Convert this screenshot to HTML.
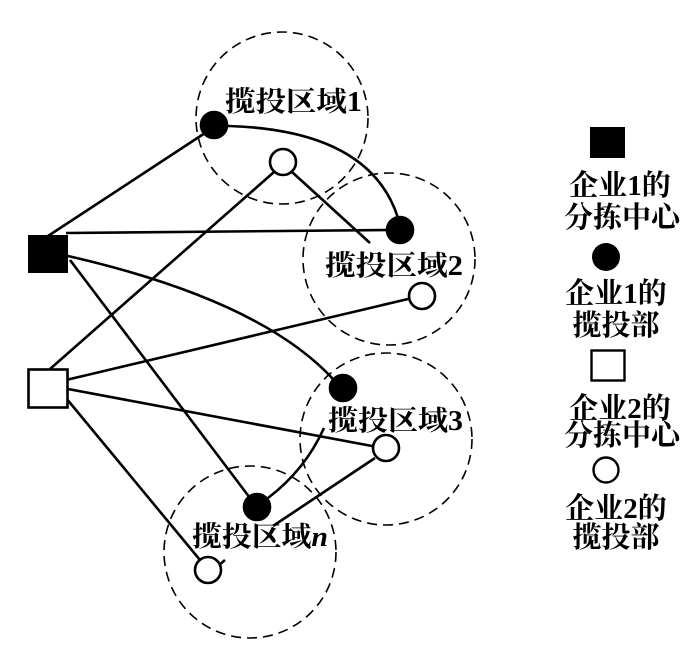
<!DOCTYPE html>
<html><head><meta charset="utf-8"><style>html,body{margin:0;padding:0;background:#fff;}svg{display:block}</style></head>
<body>
<svg width="700" height="668" viewBox="0 0 700 668" xmlns="http://www.w3.org/2000/svg">
<g fill="none" stroke="#000" stroke-width="1.6" stroke-dasharray="10,6">
<circle cx="282" cy="118" r="86"/>
<circle cx="389" cy="259" r="86"/>
<circle cx="386" cy="439" r="86"/>
<circle cx="250" cy="552" r="86"/>
</g>
<g fill="none" stroke="#000" stroke-width="2.6">
<line x1="48" y1="236" x2="205" y2="133"/>
<path d="M228 126 Q370 130 398 218"/>
<line x1="66" y1="233" x2="390" y2="230"/>
<line x1="274" y1="172" x2="50" y2="369"/>
<line x1="292" y1="172" x2="370" y2="243"/>
<path d="M68 256 Q260 300 333 379"/>
<line x1="70" y1="260" x2="250" y2="498"/>
<line x1="66" y1="380" x2="408" y2="299"/>
<line x1="68" y1="389" x2="372" y2="446"/>
<line x1="66" y1="398" x2="200" y2="560"/>
<path d="M268 498 Q305 470 324 428"/>
<line x1="375" y1="458" x2="273" y2="526"/>
<line x1="218" y1="566" x2="225" y2="560"/>
</g>
<rect x="28" y="235" width="40" height="38" fill="#000"/>
<rect x="28.5" y="369.5" width="39" height="38" fill="#fff" stroke="#000" stroke-width="2.6"/>
<g stroke="#000" stroke-width="2.6">
<circle cx="214" cy="125" r="13" fill="#000"/>
<circle cx="400" cy="230" r="13" fill="#000"/>
<circle cx="343" cy="388" r="13" fill="#000"/>
<circle cx="257" cy="507" r="13" fill="#000"/>
<circle cx="283" cy="162" r="13" fill="#fff"/>
<circle cx="422" cy="296" r="13" fill="#fff"/>
<circle cx="386" cy="448" r="13" fill="#fff"/>
<circle cx="208" cy="570" r="13" fill="#fff"/>
</g>
<g font-family="'Liberation Serif','Noto Serif CJK SC',serif" font-size="28" font-weight="bold" fill="#000">
<text x="225" y="111" textLength="137" lengthAdjust="spacingAndGlyphs">揽投区域1</text>
<text x="325" y="275" textLength="138" lengthAdjust="spacingAndGlyphs">揽投区域2</text>
<text x="328" y="430" textLength="135" lengthAdjust="spacingAndGlyphs">揽投区域3</text>
<text x="192" y="546" textLength="136" lengthAdjust="spacingAndGlyphs">揽投区域<tspan font-style="italic">n</tspan></text>
</g>
<rect x="590" y="127" width="35" height="31" fill="#000"/>
<circle cx="606" cy="257" r="14" fill="#000"/>
<rect x="591.5" y="350.5" width="33" height="30" fill="#fff" stroke="#000" stroke-width="2.4"/>
<circle cx="606" cy="470" r="12.5" fill="#fff" stroke="#000" stroke-width="2.4"/>
<g font-family="'Liberation Serif','Noto Serif CJK SC',serif" font-size="29" font-weight="bold" fill="#000" text-anchor="middle">
<text x="620" y="195">企业1的</text>
<text x="622" y="227">分拣中心</text>
<text x="616" y="303">企业1的</text>
<text x="616" y="335">揽投部</text>
<text x="620" y="418">企业2的</text>
<text x="622" y="445">分拣中心</text>
<text x="616" y="518">企业2的</text>
<text x="616" y="547">揽投部</text>
</g>
</svg>
</body></html>
